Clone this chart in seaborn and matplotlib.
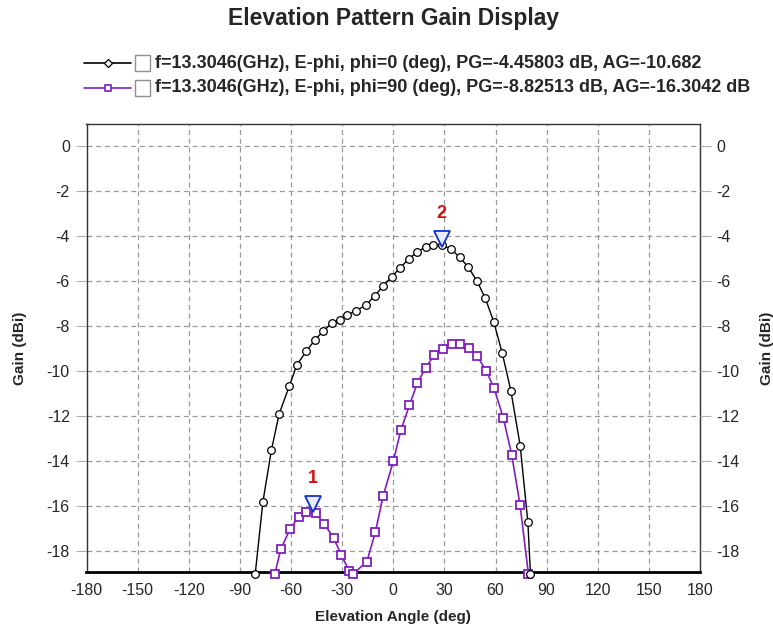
import matplotlib
matplotlib.use("Agg")
import matplotlib.pyplot as plt
from matplotlib.lines import Line2D
from matplotlib.patches import Rectangle
from matplotlib.transforms import offset_copy
import seaborn as sns
import pandas as pd

# --- data ---
phi0_angle = [-81, -76.5, -71.5, -67, -61, -56.5, -51, -46, -41, -36, -31.5, -27, -22,
              -16, -11, -6, -1, 4, 9, 14, 19, 23.5, 28.5, 34, 39, 44, 49, 54, 59, 64,
              69, 74.5, 79, 80.5]
phi0_gain = [-19, -15.8, -13.5, -11.9, -10.65, -9.7, -9.1, -8.6, -8.2, -7.85, -7.7, -7.5,
             -7.3, -7.05, -6.65, -6.2, -5.8, -5.4, -5.0, -4.7, -4.45, -4.38, -4.38, -4.56,
             -4.93, -5.36, -5.96, -6.74, -7.8, -9.2, -10.85, -13.3, -16.7, -19]

phi90_angle = [-69.5, -66, -60.5, -55.5, -51, -45.5, -40.5, -35, -30.5, -26, -23.5, -15.5,
               -10.5, -6, 0, 4.5, 9.5, 14.2, 19, 24, 29.3, 34.2, 39, 44.5, 49.4, 54.7,
               59.2, 64.6, 69.5, 74.4, 79.3]
phi90_gain = [-19, -17.9, -17.0, -16.45, -16.25, -16.3, -16.77, -17.4, -18.15, -18.85, -19,
              -18.45, -17.15, -15.55, -14.0, -12.6, -11.5, -10.5, -9.85, -9.26, -9.0, -8.8,
              -8.8, -8.96, -9.33, -10.0, -10.75, -12.07, -13.7, -15.93, -19]

marker_ids = ["1", "2"]
marker_angle = [-47, 28.5]
marker_gain = [-16.25, -4.45]

labels = ["f=13.3046(GHz), E-phi, phi=0 (deg), PG=-4.45803 dB, AG=-10.682",
          "f=13.3046(GHz), E-phi, phi=90 (deg), PG=-8.82513 dB, AG=-16.3042 dB"]

x_ticks = list(range(-180, 181, 30))
y_ticks = list(range(0, -19, -2))

purple = "#8020C0"

sns.set_style("white")
plt.rcParams['font.family'] = ['Liberation Sans', 'DejaVu Sans']
plt.rcParams['axes.unicode_minus'] = False

W, H = 773, 639
fig = plt.figure(figsize=(W / 100, H / 100), dpi=100)


def fx(px):
    return px / W


def fy(py):
    return 1 - py / H


ax = fig.add_axes([fx(86.5), fy(571.7), fx(700) - fx(86.5), fy(124) - fy(571.7)])

df0 = pd.DataFrame({"angle": phi0_angle, "gain": phi0_gain})
df90 = pd.DataFrame({"angle": phi90_angle, "gain": phi90_gain})

sns.lineplot(data=df0, x="angle", y="gain", ax=ax, color="black", linewidth=1,
             marker="o", markersize=5.5, markerfacecolor="white", markeredgecolor="black",
             markeredgewidth=0.9, sort=False, clip_on=False, zorder=4)
sns.lineplot(data=df90, x="angle", y="gain", ax=ax, color=purple, linewidth=1.2,
             marker="s", markersize=5.5, markerfacecolor="white", markeredgecolor=purple,
             markeredgewidth=1.3, sort=False, clip_on=False, zorder=3)

# markers 1 and 2 (triangle sits on the curve, number above)
tri_tr = offset_copy(ax.transData, fig=fig, x=0, y=8, units="dots")
ax.plot(marker_angle, marker_gain, linestyle="none", marker="v", markersize=11,
        markerfacecolor="#e8eeff", markeredgecolor="#1030D0", markeredgewidth=1.3,
        transform=tri_tr, zorder=6, clip_on=False)
for mid, mx, my in zip(marker_ids, marker_angle, marker_gain):
    ax.annotate(mid, (mx, my), xytext=(0, 24), textcoords="offset points",
                ha="center", va="center", color="#D01010", fontsize=13,
                fontweight="bold")

ax.set_xlim(-180, 180)
ax.set_ylim(-18.9, 1.0)
ax.set_xticks(x_ticks)
ax.set_yticks(y_ticks)
ax.grid(True, color="#9a9a9a", linestyle=(0, (4, 3)), linewidth=0.9)
for s in ax.spines.values():
    s.set_color("#333333")
    s.set_linewidth(1.0)
ax.spines["bottom"].set_linewidth(2.0)
ax.spines["bottom"].set_color("black")

ax.tick_params(axis="x", length=0, pad=8, labelsize=11.5)
ax.tick_params(axis="y", length=8, color="#b0b0b0", width=0.8, pad=4, labelsize=11.5)
ax.set_xlabel("Elevation Angle (deg)", fontsize=11, fontweight="bold")
ax.set_ylabel("Gain (dBi)", fontsize=11, fontweight="bold")
ax.xaxis.set_label_coords(0.5, -0.085)
ax.yaxis.set_label_coords(-0.097, 0.5)

ax2 = ax.twinx()
ax2.set_ylim(ax.get_ylim())
ax2.set_yticks(y_ticks)
ax2.tick_params(axis="y", length=8, color="#b0b0b0", width=0.8, pad=4, labelsize=11.5)
ax2.set_ylabel("Gain (dBi)", fontsize=11, fontweight="bold", rotation=90)
ax2.yaxis.set_label_coords(1.098, 0.5)
for s in ax2.spines.values():
    s.set_visible(False)

# title
fig.text(fx(393.5), fy(18), "Elevation Pattern Gain Display", ha="center", va="center",
         fontsize=16.5, fontweight="bold")

# legend rows: line sample, checkbox, text
rows = [(63, "black", "D", 4.5, 0.9), (88, purple, "s", 5, 1.2)]
for (py, col, mk, ms, mew), lab in zip(rows, labels):
    fig.add_artist(Line2D([fx(84), fx(131)], [fy(py), fy(py)], color=col, linewidth=1.2))
    fig.add_artist(Line2D([fx(107.5)], [fy(py)], marker=mk, markersize=ms,
                          markerfacecolor="white", markeredgecolor=col, markeredgewidth=mew))
    fig.add_artist(Rectangle((fx(135), fy(py + 8)), fx(15), fy(py - 8) - fy(py + 8),
                             facecolor="white", edgecolor="#909090", linewidth=1.0))
    fig.text(fx(155), fy(py), lab, ha="left", va="center", fontsize=13, fontweight="bold")

fig.savefig("out.png", dpi=100)
